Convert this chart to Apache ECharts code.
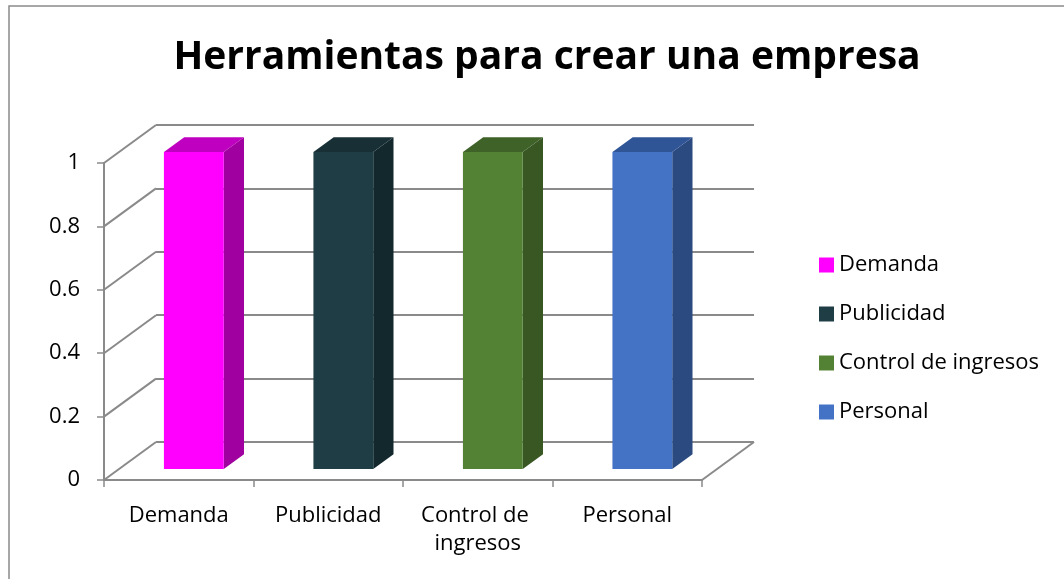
<!DOCTYPE html>
<html>
<head>
<meta charset="utf-8">
<script src="https://cdn.jsdelivr.net/npm/echarts@6/dist/echarts.min.js"></script>
<style>
  html, body { margin: 0; padding: 0; background: #fff; }
  #main { width: 1064px; height: 579px; }
</style>
</head>
<body>
<div id="main"></div>
<script>
// data
var categories = ['Demanda', 'Publicidad', 'Control de ingresos', 'Personal'];
var values = [1, 1, 1, 1];
var yTicks = [0, 0.2, 0.4, 0.6, 0.8, 1];

// colours: front, top, side faces
var frontColors = ['#ff00ff', '#1e3d45', '#548235', '#4472c4'];
var topColors = ['#c000c0', '#172f35', '#3f6229', '#2f5597'];
var sideColors = ['#a000a0', '#12282c', '#385723', '#2a4a80'];

// 3d look
var DEPTH_X = 52, DEPTH_Y = -38;
var BAR_FRONT = 0.29, BAR_BACK = 0.68, BAR_W = 0.4;
var LINE = '#8a8a8a';
var FONT = 'Open Sans';

var chart = echarts.init(document.getElementById('main'));

function renderBar(params, api) {
  var i = api.value(0), v = api.value(1);
  var top = api.coord([i, v]);
  var base = api.coord([i, 0]);
  var w = api.size([1, 0])[0] * BAR_W;
  var fx = BAR_FRONT * DEPTH_X, fy = BAR_FRONT * DEPTH_Y;
  var bx = (BAR_BACK - BAR_FRONT) * DEPTH_X, by = (BAR_BACK - BAR_FRONT) * DEPTH_Y;
  var x0 = top[0] - w / 2 + fx, x1 = x0 + w;
  var yt = top[1] + fy, yb = base[1] + fy;
  var s = params.seriesIndex - 1;
  return {
    type: 'group',
    children: [
      { type: 'polygon', shape: { points: [[x1, yt], [x1 + bx, yt + by], [x1 + bx, yb + by], [x1, yb]] },
        style: { fill: sideColors[s] } },
      { type: 'polygon', shape: { points: [[x0, yt], [x1, yt], [x1 + bx, yt + by], [x0 + bx, yt + by]] },
        style: { fill: topColors[s] } },
      { type: 'rect', shape: { x: x0, y: yt, width: w, height: yb - yt },
        style: { fill: frontColors[s] } }
    ]
  };
}

function renderWall(params, api) {
  var v = api.value(1);
  var p = api.coord([0, v]);
  var cs = params.coordSys;
  var kids = [{
    type: 'line',
    shape: { x1: cs.x, y1: p[1], x2: cs.x + DEPTH_X, y2: p[1] + DEPTH_Y },
    style: { stroke: LINE, lineWidth: 2 }
  }];
  if (v === 0) {
    kids.push({
      type: 'line',
      shape: { x1: cs.x + cs.width, y1: p[1], x2: cs.x + cs.width + DEPTH_X, y2: p[1] + DEPTH_Y },
      style: { stroke: LINE, lineWidth: 2 }
    });
  }
  return { type: 'group', children: kids };
}

var series = [{
  type: 'custom',
  name: 'wall',
  xAxisIndex: 0,
  yAxisIndex: 0,
  clip: false,
  silent: true,
  z: 1,
  renderItem: renderWall,
  data: yTicks.map(function (t) { return [0, t]; })
}];

categories.forEach(function (c, i) {
  series.push({
    type: 'custom',
    name: c,
    xAxisIndex: 0,
    yAxisIndex: 0,
    clip: false,
    z: 5,
    itemStyle: { color: frontColors[i] },
    renderItem: renderBar,
    data: [[i, values[i]]]
  });
});

chart.setOption({
  animation: false,
  backgroundColor: '#fff',
  title: {
    text: 'Herramientas para crear una empresa',
    left: 542,
    top: 33,
    textAlign: 'center',
    textStyle: { fontFamily: FONT, fontWeight: 'bold', fontSize: 39, color: '#000' }
  },
  legend: {
    data: categories,
    orient: 'vertical',
    left: 814,
    top: 249,
    itemGap: 27,
    itemWidth: 15,
    itemHeight: 15,
    itemStyle: { borderWidth: 0 },
    icon: 'rect',
    textStyle: { fontFamily: FONT, fontSize: 22, color: '#000' }
  },
  graphic: [{
    type: 'rect',
    shape: { x: 9, y: 6, width: 1100, height: 620 },
    style: { fill: 'none', stroke: '#8a8a8a', lineWidth: 1.5 },
    silent: true
  }],
  grid: [
    { left: 104, top: 163, width: 598, height: 317 },
    { left: 104 + DEPTH_X, top: 163 + DEPTH_Y, width: 598, height: 317 }
  ],
  xAxis: [{
    gridIndex: 0,
    type: 'category',
    data: categories,
    axisLine: { lineStyle: { color: LINE, width: 2 } },
    axisTick: { show: true, length: 7, lineStyle: { color: LINE, width: 1.5 } },
    axisLabel: {
      interval: 0,
      margin: 22,
      width: 140,
      overflow: 'break',
      lineHeight: 28,
      fontFamily: FONT,
      fontSize: 22,
      color: '#000'
    }
  }, {
    gridIndex: 1,
    type: 'category',
    data: categories,
    show: false
  }],
  yAxis: [{
    gridIndex: 0,
    type: 'value',
    min: 0,
    max: 1,
    interval: 0.2,
    axisLine: { show: true, lineStyle: { color: LINE, width: 2 } },
    axisTick: { show: true, length: 7, lineStyle: { color: LINE, width: 1.5 } },
    splitLine: { show: false },
    axisLabel: { margin: 24, fontFamily: FONT, fontSize: 22, color: '#000' }
  }, {
    gridIndex: 1,
    type: 'value',
    min: 0,
    max: 1,
    interval: 0.2,
    axisLine: { show: false },
    axisTick: { show: false },
    axisLabel: { show: false },
    splitLine: { show: true, lineStyle: { color: LINE, width: 2 } }
  }],
  series: series
});
</script>
</body>
</html>
